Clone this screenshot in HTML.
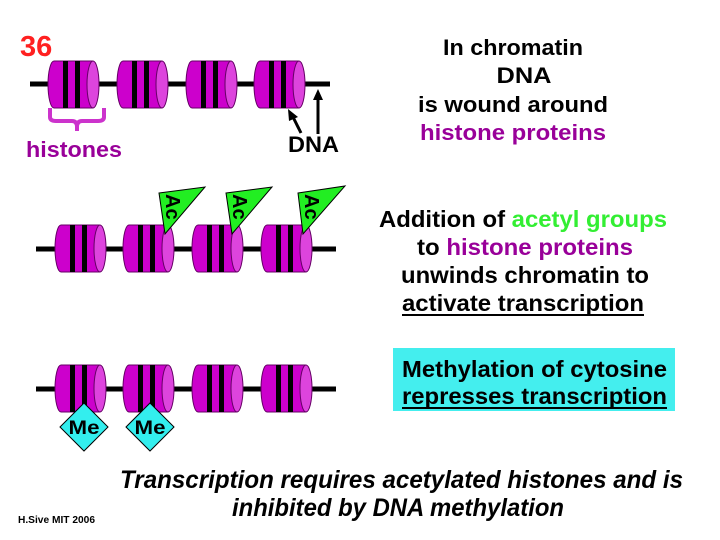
<!DOCTYPE html>
<html><head><meta charset="utf-8"><style>
html,body{margin:0;padding:0;background:#fff;width:720px;height:540px;overflow:hidden}
svg{display:block}
text{font-family:"Liberation Sans",Arial,sans-serif;font-weight:bold}
</style></head><body>
<svg width="720" height="540" viewBox="0 0 720 540">
<defs>
<g id="cyl">
<path d="M6,0 H45 V47 H6 A6,23.5 0 0 1 6,0 Z" fill="#CC00CC" stroke="#660066" stroke-width="1"/>
<rect x="15" y="0" width="5" height="47" fill="#000"/>
<rect x="27" y="0" width="5" height="47" fill="#000"/>
<ellipse cx="45" cy="23.5" rx="6" ry="23.5" fill="#DD44DD" stroke="#660066" stroke-width="1"/>
</g>
</defs>
<!-- Row 1 -->
<line x1="30" y1="84" x2="330" y2="84" stroke="#000" stroke-width="5"/>
<use href="#cyl" x="48" y="61"/><use href="#cyl" x="117" y="61"/><use href="#cyl" x="186" y="61"/><use href="#cyl" x="254" y="61"/>
<text x="20" y="56" font-size="29" fill="#FF2020">36</text>
<path d="M50,108 V117 Q50,121 56,121 H72 Q77,121 77,127 V131 M77,127 Q77,121 82,121 H98 Q104,121 104,117 V108" fill="none" stroke="#CC33CC" stroke-width="4"/>
<text x="26" y="157" font-size="22" fill="#990099" textLength="96" lengthAdjust="spacingAndGlyphs">histones</text>
<text x="288" y="152" font-size="22" fill="#000" textLength="51" lengthAdjust="spacingAndGlyphs">DNA</text>
<line x1="301" y1="133" x2="293" y2="117" stroke="#000" stroke-width="3"/>
<polygon points="288,109 298,117 289,121" fill="#000"/>
<line x1="318" y1="134" x2="318" y2="98" stroke="#000" stroke-width="3"/>
<polygon points="318,89 313,100 323,100" fill="#000"/>
<text x="513" y="55" font-size="22" fill="#000" text-anchor="middle" textLength="140" lengthAdjust="spacingAndGlyphs">In chromatin</text>
<text x="524" y="83" font-size="22" fill="#000" text-anchor="middle" textLength="55" lengthAdjust="spacingAndGlyphs">DNA</text>
<text x="513" y="112" font-size="22" fill="#000" text-anchor="middle" textLength="190" lengthAdjust="spacingAndGlyphs">is wound around</text>
<text x="513" y="140" font-size="22" fill="#990099" text-anchor="middle" textLength="186" lengthAdjust="spacingAndGlyphs">histone proteins</text>
<!-- Row 2 -->
<line x1="36" y1="249" x2="336" y2="249" stroke="#000" stroke-width="5"/>
<use href="#cyl" x="55" y="225"/><use href="#cyl" x="123" y="225"/><use href="#cyl" x="192" y="225"/><use href="#cyl" x="261" y="225"/>
<g>
<polygon points="159,193 205,187 165,234" fill="#22EE22" stroke="#000" stroke-width="1"/>
<text transform="translate(166,194) rotate(90)" font-size="20" fill="#000">Ac</text>
<polygon points="226,193 272,187 232,234" fill="#22EE22" stroke="#000" stroke-width="1"/>
<text transform="translate(233,194) rotate(90)" font-size="20" fill="#000">Ac</text>
<polygon points="298,193 345,186 303,234" fill="#22EE22" stroke="#000" stroke-width="1"/>
<text transform="translate(305,194) rotate(90)" font-size="20" fill="#000">Ac</text>
</g>
<text x="379" y="227" font-size="23" textLength="288" lengthAdjust="spacingAndGlyphs"><tspan fill="#000">Addition of </tspan><tspan fill="#33EE33">acetyl groups</tspan></text>
<text x="417" y="255" font-size="23" textLength="216" lengthAdjust="spacingAndGlyphs"><tspan fill="#000">to </tspan><tspan fill="#990099">histone proteins</tspan></text>
<text x="401" y="283" font-size="23" fill="#000" textLength="248" lengthAdjust="spacingAndGlyphs">unwinds chromatin to</text>
<text x="402" y="311" font-size="23" fill="#000" textLength="242" lengthAdjust="spacingAndGlyphs">activate transcription</text>
<rect x="402" y="314" width="242" height="2" fill="#000"/>
<!-- Row 3 -->
<line x1="36" y1="389" x2="336" y2="389" stroke="#000" stroke-width="5"/>
<use href="#cyl" x="55" y="365"/><use href="#cyl" x="123" y="365"/><use href="#cyl" x="192" y="365"/><use href="#cyl" x="261" y="365"/>
<polygon points="84,403 108,427 84,451 60,427" fill="#33EEEE" stroke="#000" stroke-width="1"/>
<text x="84" y="434" font-size="19" fill="#000" text-anchor="middle" textLength="31" lengthAdjust="spacingAndGlyphs">Me</text>
<polygon points="150,403 174,427 150,451 126,427" fill="#33EEEE" stroke="#000" stroke-width="1"/>
<text x="150" y="434" font-size="19" fill="#000" text-anchor="middle" textLength="31" lengthAdjust="spacingAndGlyphs">Me</text>
<rect x="393" y="348" width="282" height="63" fill="#44EEEE"/>
<text x="402" y="377" font-size="23" fill="#000" textLength="265" lengthAdjust="spacingAndGlyphs">Methylation of cytosine</text>
<text x="402" y="404" font-size="23" fill="#000" textLength="265" lengthAdjust="spacingAndGlyphs">represses transcription</text>
<rect x="402" y="407" width="265" height="2" fill="#000"/>
<!-- Bottom -->
<text x="120" y="488" font-size="25" font-style="italic" fill="#000" textLength="563" lengthAdjust="spacingAndGlyphs">Transcription requires acetylated histones and is</text>
<text x="232" y="516" font-size="25" font-style="italic" fill="#000" textLength="332" lengthAdjust="spacingAndGlyphs">inhibited by DNA methylation</text>
<text x="18" y="523" font-size="10" fill="#000" textLength="77" lengthAdjust="spacingAndGlyphs">H.Sive MIT  2006</text>
</svg>
</body></html>
